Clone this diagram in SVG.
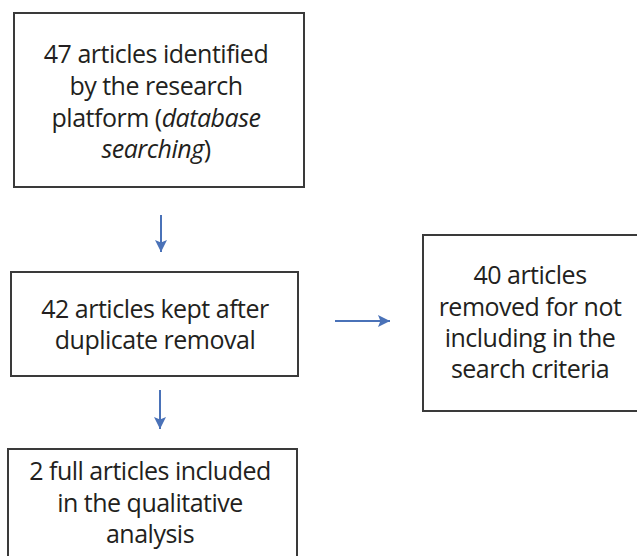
<svg xmlns="http://www.w3.org/2000/svg" width="637" height="556" viewBox="0 0 637 556">
<defs>
<style>
.box{fill:#fff;stroke:#3a3a3a;stroke-width:2}
.t{font-family:"Open Sans","Noto Sans",sans-serif;font-size:25px;letter-spacing:-0.5px;fill:#231f20;text-anchor:middle}
.c{stroke:#4a72b8;stroke-width:2;fill:none}
</style>
<marker id="ah" viewBox="0 0 10 10" refX="10" refY="5" markerWidth="14" markerHeight="12" markerUnits="userSpaceOnUse" orient="auto">
<path d="M0,0 L10,5 L0,10 L2,5 z" fill="#4a72b8"/>
</marker>
</defs>
<rect width="637" height="556" fill="#fff"/>
<g id="connectors">
<line class="c" x1="161" y1="215" x2="161" y2="252" marker-end="url(#ah)"/>
<line class="c" x1="160" y1="390" x2="160" y2="429" marker-end="url(#ah)"/>
<line class="c" x1="335" y1="321" x2="390" y2="321" marker-end="url(#ah)"/>
</g>
<g id="n1">
<rect class="box" x="14" y="13" width="290" height="174"/>
<text class="t"><tspan x="156" y="63">47 articles identified</tspan><tspan x="156" y="95">by the research</tspan><tspan x="156" y="127">platform (<tspan font-style="italic">database</tspan></tspan><tspan x="156" y="158"><tspan font-style="italic">searching</tspan>)</tspan></text>
</g>
<g id="n2">
<rect class="box" x="11" y="272" width="287" height="104"/>
<text class="t"><tspan x="155" y="318">42 articles kept after</tspan><tspan x="155" y="349">duplicate removal</tspan></text>
</g>
<g id="n3">
<rect class="box" x="423" y="235" width="216" height="176"/>
<text class="t"><tspan x="530" y="284">40 articles</tspan><tspan x="530" y="316">removed for not</tspan><tspan x="530" y="347">including in the</tspan><tspan x="530" y="378">search criteria</tspan></text>
</g>
<g id="n4">
<rect class="box" x="8" y="449" width="289" height="120"/>
<text class="t"><tspan x="150" y="480">2 full articles included</tspan><tspan x="150" y="512">in the qualitative</tspan><tspan x="150" y="543">analysis</tspan></text>
</g>
</svg>
